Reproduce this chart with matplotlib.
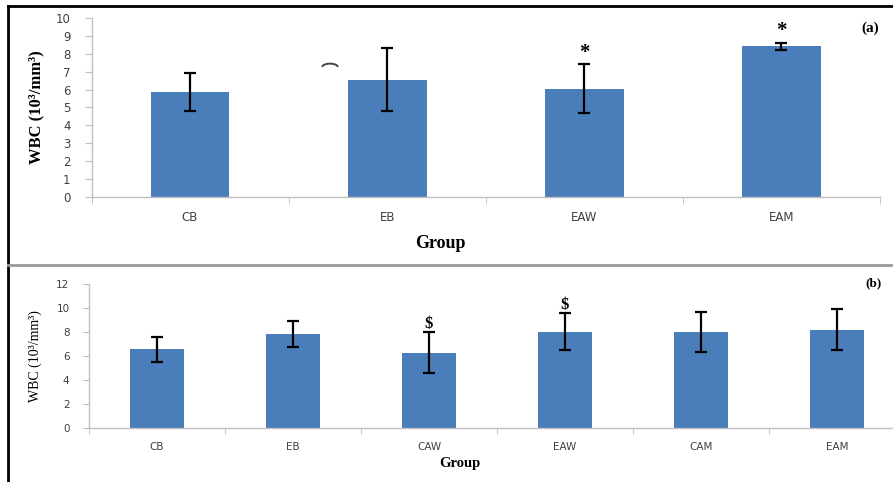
import matplotlib
matplotlib.use('Agg')
import matplotlib.pyplot as plt
from matplotlib.lines import Line2D
from matplotlib.patches import Arc
import numpy as np

# panel (a)
groups_a = ['CB', 'EB', 'EAW', 'EAM']
means_a = [5.85, 6.55, 6.05, 8.42]
errs_a = [1.05, 1.75, 1.37, 0.2]
marks_a = ['', '', '*', '*']

# panel (b)
groups_b = ['CB', 'EB', 'CAW', 'EAW', 'CAM', 'EAM']
means_b = [6.56, 7.85, 6.28, 8.05, 8.02, 8.2]
errs_b = [1.03, 1.1, 1.73, 1.55, 1.65, 1.7]
marks_b = ['', '', '$', '$', '', '']

W, H = 893, 482
BLUE = '#4a7ebb'
GRID = '#bfbfbf'
TXT = '#404040'
SERIF = 'Liberation Serif'

fig = plt.figure(figsize=(W / 100, H / 100), dpi=100)
fig.patch.set_facecolor('white')


def px_axes(x0, x1, ytop, ybot):
    return fig.add_axes([x0 / W, 1 - ybot / H, (x1 - x0) / W, (ybot - ytop) / H])


def style(ax, n, fs, tick_len):
    for s in ['top', 'right']:
        ax.spines[s].set_visible(False)
    for s in ['left', 'bottom']:
        ax.spines[s].set_color(GRID)
        ax.spines[s].set_linewidth(1)
    ax.set_xlim(-0.5, n - 0.5)
    ax.set_xticks(np.arange(n))
    ax.set_xticks(np.arange(n + 1) - 0.5, minor=True)
    ax.tick_params(axis='x', which='major', length=0, pad=10, labelsize=fs, labelcolor=TXT)
    ax.tick_params(axis='x', which='minor', length=tick_len, color=GRID, direction='out')
    ax.tick_params(axis='y', length=tick_len, color=GRID, pad=10, labelsize=fs, labelcolor=TXT)


# ---- panel (a)
ax1 = px_axes(91.5, 880, 18, 197)
x = np.arange(len(groups_a))
ax1.bar(x, means_a, width=0.4, color=BLUE, zorder=2)
ax1.errorbar(x, means_a, yerr=errs_a, fmt='none', ecolor='black', elinewidth=1.6,
             capsize=4, capthick=1.6, zorder=3)
ax1.set_ylim(0, 10)
ax1.set_yticks(range(0, 11))
ax1.set_xticklabels(groups_a)
style(ax1, len(groups_a), 8.5, 5)
for xi, m, e, s in zip(x, means_a, errs_a, marks_a):
    if s:
        ax1.annotate(s, (xi, m + e), xytext=(0, 1), textcoords='offset points',
                     ha='center', va='bottom', fontsize=15, fontweight='bold', family=SERIF)
# small stray arc left of the EB bar
ax1.add_patch(Arc((0.71, 7.25), 0.08, 0.4, theta1=25, theta2=155, color='#444444', lw=1.4))
ax1.set_ylabel('WBC (10³/mm³)', family=SERIF, fontweight='bold', fontsize=12, labelpad=8)
fig.text(440 / W, 1 - 244 / H, 'Group', family=SERIF, fontweight='bold', fontsize=13,
         ha='center', va='center')
fig.text(870 / W, 1 - 28 / H, '(a)', family=SERIF, fontweight='bold', fontsize=11,
         ha='center', va='center')

# ---- panel (b)
ax2 = px_axes(89, 905, 284.3, 427.7)
x = np.arange(len(groups_b))
ax2.bar(x, means_b, width=0.4, color=BLUE, zorder=2)
ax2.errorbar(x, means_b, yerr=errs_b, fmt='none', ecolor='black', elinewidth=1.6,
             capsize=4, capthick=1.6, zorder=3)
ax2.set_ylim(0, 12)
ax2.set_yticks(range(0, 13, 2))
ax2.set_xticklabels(groups_b)
style(ax2, len(groups_b), 7.5, 4)
for xi, m, e, s in zip(x, means_b, errs_b, marks_b):
    if s:
        ax2.annotate(s, (xi, m + e), xytext=(0, 0), textcoords='offset points',
                     ha='center', va='bottom', fontsize=12, fontweight='bold', family=SERIF)
ax2.set_ylabel('WBC (10³/mm³)', family=SERIF, fontsize=10, labelpad=10)
fig.text(460 / W, 1 - 463 / H, 'Group', family=SERIF, fontweight='bold', fontsize=10.5,
         ha='center', va='center')
fig.text(874 / W, 1 - 283 / H, '(b)', family=SERIF, fontweight='bold', fontsize=9.5,
         ha='center', va='center')

# outer frame and divider
fig.add_artist(Line2D([8 / W, 8 / W], [0, 1 - 6 / H], color='black', lw=2))
fig.add_artist(Line2D([8 / W, 1], [1 - 6 / H, 1 - 6 / H], color='black', lw=2))
fig.add_artist(Line2D([8 / W, 1], [1 - 265 / H, 1 - 265 / H], color='#999999', lw=2))

fig.savefig('out.png', dpi=100, facecolor='white')
